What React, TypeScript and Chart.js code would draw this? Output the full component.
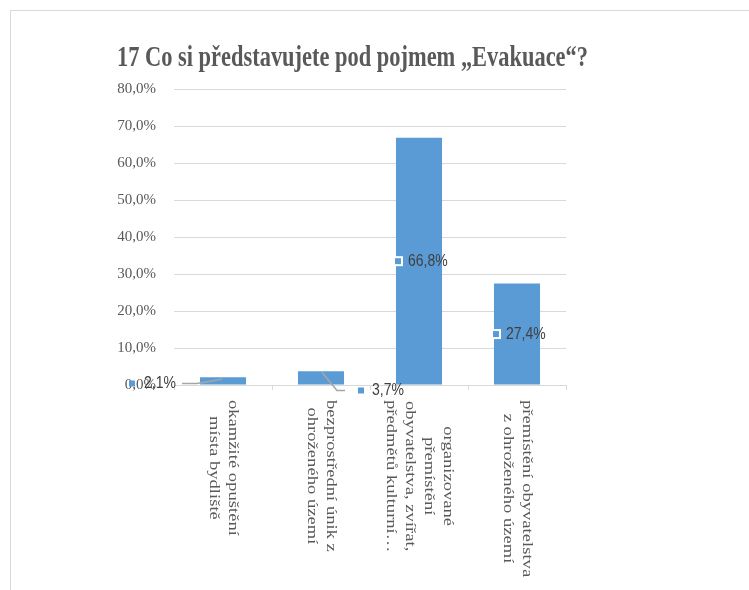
import React, { useEffect, useRef } from "react";
import { Chart, registerables } from "chart.js";

Chart.register(...registerables);

const title = "17 Co si představujete pod pojmem „Evakuace“?";
const categories: string[][] = [
  ["okamžité opuštění", "místa bydliště"],
  ["bezprostřední únik z", "ohroženého území"],
  ["organizované", "přemístění", "obyvatelstva, zvířat,", "předmětů kulturní…"],
  ["přemístění obyvatelstva", "z ohroženého území"],
];
const values = [2.1, 3.7, 66.8, 27.4];
const yMin = 0;
const yMax = 80;
const yStep = 10;

const fmt = (v: number) => v.toFixed(1).replace(".", ",") + "%";

const BAR = "#5b9bd5";
const TXT = "#595959";
const LBL = "#404040";
const GRID = "#d9d9d9";

function drawSquare(ctx: CanvasRenderingContext2D, x: number, y: number) {
  ctx.fillStyle = "#ffffff";
  ctx.fillRect(x - 5, y - 5, 10, 10);
  ctx.fillStyle = BAR;
  ctx.fillRect(x - 3, y - 3, 6, 6);
}

function drawLabelText(ctx: CanvasRenderingContext2D, text: string, x: number, y: number) {
  ctx.save();
  ctx.translate(x, y);
  ctx.scale(1, 1.2);
  ctx.font = '14px "Liberation Sans"';
  ctx.fillStyle = LBL;
  ctx.textAlign = "left";
  ctx.textBaseline = "middle";
  ctx.fillText(text, 0, 0);
  ctx.restore();
}

const customPlugin = {
  id: "custom",
  afterDatasetsDraw(chart: any) {
    const ctx: CanvasRenderingContext2D = chart.ctx;
    const meta = chart.getDatasetMeta(0);
    meta.data.forEach((bar: any, i: number) => {
      const { x, y, base, width } = bar.getProps(["x", "y", "base", "width"], true);
      const text = fmt(values[i]);
      ctx.save();
      if (i === 0) {
        ctx.strokeStyle = "#a6a6a6";
        ctx.lineWidth = 1.5;
        ctx.beginPath();
        ctx.moveTo(x - 41, base - 1);
        ctx.lineTo(x - 26, base - 1);
        ctx.lineTo(x - 1, y + 2);
        ctx.stroke();
        ctx.fillStyle = BAR;
        ctx.fillRect(x - 94, base - 4, 6, 6);
        drawLabelText(ctx, text, x - 79, base - 1);
      } else if (i === 1) {
        ctx.strokeStyle = "#a6a6a6";
        ctx.lineWidth = 1.5;
        ctx.beginPath();
        ctx.moveTo(x + 24, base + 6);
        ctx.lineTo(x + 16, base + 6);
        ctx.lineTo(x + 1, y + 1);
        ctx.stroke();
        ctx.fillStyle = BAR;
        ctx.fillRect(x + 37, base + 3, 6, 6);
        drawLabelText(ctx, text, x + 51, base + 6);
      } else {
        const sx = x - width / 2 + 2;
        const sy = (y + base) / 2;
        drawSquare(ctx, sx, sy);
        drawLabelText(ctx, text, sx + 10, sy);
      }
      ctx.restore();
    });
  },
  afterDraw(chart: any) {
    const ctx: CanvasRenderingContext2D = chart.ctx;
    // title
    ctx.save();
    ctx.font = 'bold 22px "Liberation Serif"';
    const w = ctx.measureText(title).width;
    ctx.translate(117, 66);
    ctx.scale(471 / w, 1.3);
    ctx.fillStyle = TXT;
    ctx.textAlign = "left";
    ctx.textBaseline = "alphabetic";
    ctx.fillText(title, 0, 0);
    ctx.restore();

    // x labels, rotated clockwise
    const xs = chart.scales.x;
    const top = chart.chartArea.bottom + 15;
    const pitch = 19;
    const stretch = 1.24;
    categories.forEach((lines, i) => {
      const cx = xs.getPixelForValue(i);
      ctx.save();
      ctx.font = '15px "Liberation Serif"';
      const maxW = Math.max(...lines.map((l) => ctx.measureText(l).width)) * stretch;
      const n = lines.length;
      lines.forEach((line, j) => {
        const colX = cx + ((n - 1) / 2 - j) * pitch;
        ctx.save();
        ctx.translate(colX, top + maxW / 2);
        ctx.rotate(Math.PI / 2);
        ctx.scale(stretch, 1);
        ctx.fillStyle = TXT;
        ctx.textAlign = "center";
        ctx.textBaseline = "middle";
        ctx.fillText(line, 0, 0);
        ctx.restore();
      });
      ctx.restore();
    });
  },
};

export default function App() {
  const ref = useRef<HTMLCanvasElement | null>(null);
  useEffect(() => {
    if (!ref.current) return;
    const chart = new Chart(ref.current, {
      type: "bar",
      data: {
        labels: categories.map((c) => c.join(" ")),
        datasets: [
          {
            data: values,
            backgroundColor: BAR,
            barPercentage: 0.47,
            categoryPercentage: 1,
          },
        ],
      },
      options: {
        responsive: false,
        animation: false,
        layout: { padding: { top: 89, left: 0, right: 183, bottom: 0 } },
        plugins: { legend: { display: false }, title: { display: false }, tooltip: { enabled: false } },
        scales: {
          x: {
            grid: { drawOnChartArea: false, drawTicks: true, tickLength: 5, color: GRID },
            border: { color: GRID, width: 1 },
            ticks: { display: false },
            afterFit: (s: any) => {
              s.height = 205;
            },
          },
          y: {
            min: yMin,
            max: yMax,
            ticks: {
              stepSize: yStep,
              padding: 18,
              color: TXT,
              font: { family: '"Liberation Serif"', size: 15 },
              callback: (v: any) => fmt(Number(v)),
            },
            grid: { color: GRID, drawTicks: false, lineWidth: 1 },
            border: { display: false },
            afterFit: (s: any) => {
              s.width = 174;
            },
          },
        },
      },
      plugins: [customPlugin],
    });
    return () => chart.destroy();
  }, []);

  return (
    <div style={{ position: "fixed", left: 0, top: 0, width: 749, height: 590, overflow: "hidden", background: "#fff" }}>
      <div
        style={{
          position: "absolute",
          left: 10,
          top: 10,
          width: 800,
          height: 700,
          border: "1px solid #d9d9d9",
        }}
      />
      <canvas ref={ref} width={749} height={590} style={{ position: "absolute", left: 0, top: 0 }} />
    </div>
  );
}
